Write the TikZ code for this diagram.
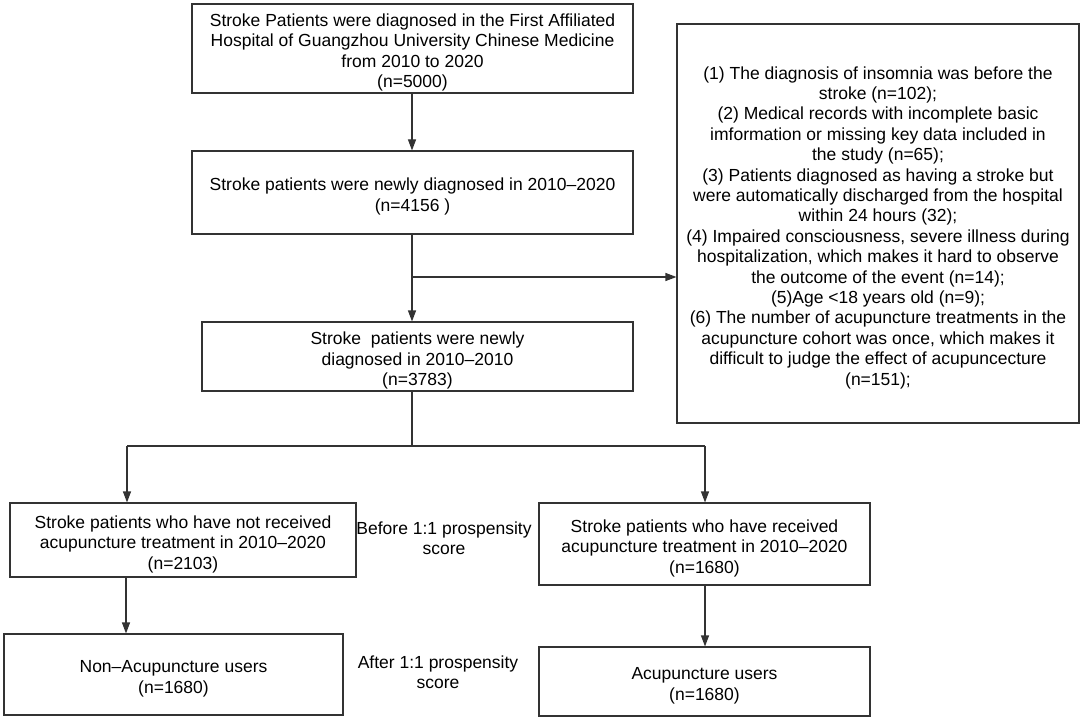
\documentclass[tikz,border=0pt]{standalone}
\usepackage{fontspec}
\setmainfont{Liberation Sans}
\usetikzlibrary{arrows.meta}
\newcommand\tstrut{\rule{0pt}{21pt}}
\begin{document}
\begin{tikzpicture}[x=1pt,y=-1pt,
  box/.style={draw=black!80, line width=1.1pt, rectangle, align=center, inner sep=0pt,
    font=\fontsize{17.5}{20.4}\selectfont},
  lbl/.style={align=center, inner sep=0pt, font=\fontsize{17.5}{20.4}\selectfont},
  arr/.style={draw=black!80, line width=1.1pt, -{Triangle[width=8pt,length=11pt]}},
  ln/.style={draw=black!80, line width=1.1pt}]
\useasboundingbox (0,0) rectangle (1084,719);
\fill[white] (0,0) rectangle (1084,719);

\node[box, minimum width=441pt, minimum height=89pt] (b1) at (412.5,48.5)
  {\tstrut Stroke Patients were diagnosed in the First Affiliated\\Hospital of Guangzhou University Chinese Medicine\\from 2010 to 2020\\(n=5000)};
\node[box, minimum width=441pt, minimum height=83pt] (b2) at (412.5,192.5)
  {\tstrut Stroke patients were newly diagnosed in 2010--2020\\(n=4156 )};
\node[box, minimum width=431pt, minimum height=69pt] (b3) at (417.5,356.5)
  {\tstrut Stroke\ \ patients were newly\\diagnosed in 2010--2010\\(n=3783)};
\node[box, minimum width=402pt, minimum height=399pt] (rb) at (878,223.5)
  {\tstrut (1) The diagnosis of insomnia was before the\\stroke (n=102);\\(2) Medical records with incomplete basic\\imformation or missing key data included in\\the study (n=65);\\(3) Patients diagnosed as having a stroke but\\were automatically discharged from the hospital\\within 24 hours (32);\\(4) Impaired consciousness, severe illness during\\hospitalization, which makes it hard to observe\\the outcome of the event (n=14);\\(5)Age <18 years old (n=9);\\(6) The number of acupuncture treatments in the\\acupuncture cohort was once, which makes it\\difficult to judge the effect of acupuncecture\\(n=151);};
\node[box, minimum width=346pt, minimum height=74pt] (l1) at (183,540)
  {\tstrut Stroke patients who have not received\\acupuncture treatment in 2010--2020\\(n=2103)};
\node[box, minimum width=339pt, minimum height=81pt] (l2) at (173.5,674.5)
  {\tstrut Non--Acupuncture users\\(n=1680)};
\node[box, minimum width=331pt, minimum height=82pt] (r1) at (704.5,544)
  {\tstrut Stroke patients who have received\\acupuncture treatment in 2010--2020\\(n=1680)};
\node[box, minimum width=331pt, minimum height=69pt] (r2) at (704.5,681.5)
  {\tstrut Acupuncture users\\(n=1680)};
\node[lbl] (t1) at (444,538) {Before 1:1 prospensity\\score};
\node[lbl] (t2) at (438,672) {After 1:1 prospensity\\score};

\coordinate (top) at (412,0);
\draw[arr] (b1.south -| top) -- (b2.north -| top);
\draw[arr] (b2.south -| top) -- (b3.north -| top);
\coordinate (j1) at (412,277);
\draw[arr] (j1) -- (j1 -| rb.west);
\coordinate (jb) at (412,446);
\coordinate (jl) at (127,446);
\coordinate (jr) at (705,446);
\draw[ln] (b3.south -| top) -- (jb);
\draw[ln] (jl) -- (jr);
\draw[arr] (jl) -- (jl |- l1.north);
\draw[arr] (jr) -- (jr |- r1.north);
\coordinate (ll) at (126,0);
\draw[arr] (l1.south -| ll) -- (l2.north -| ll);
\draw[arr] (r1.south -| jr) -- (r2.north -| jr);
\end{tikzpicture}
\end{document}
